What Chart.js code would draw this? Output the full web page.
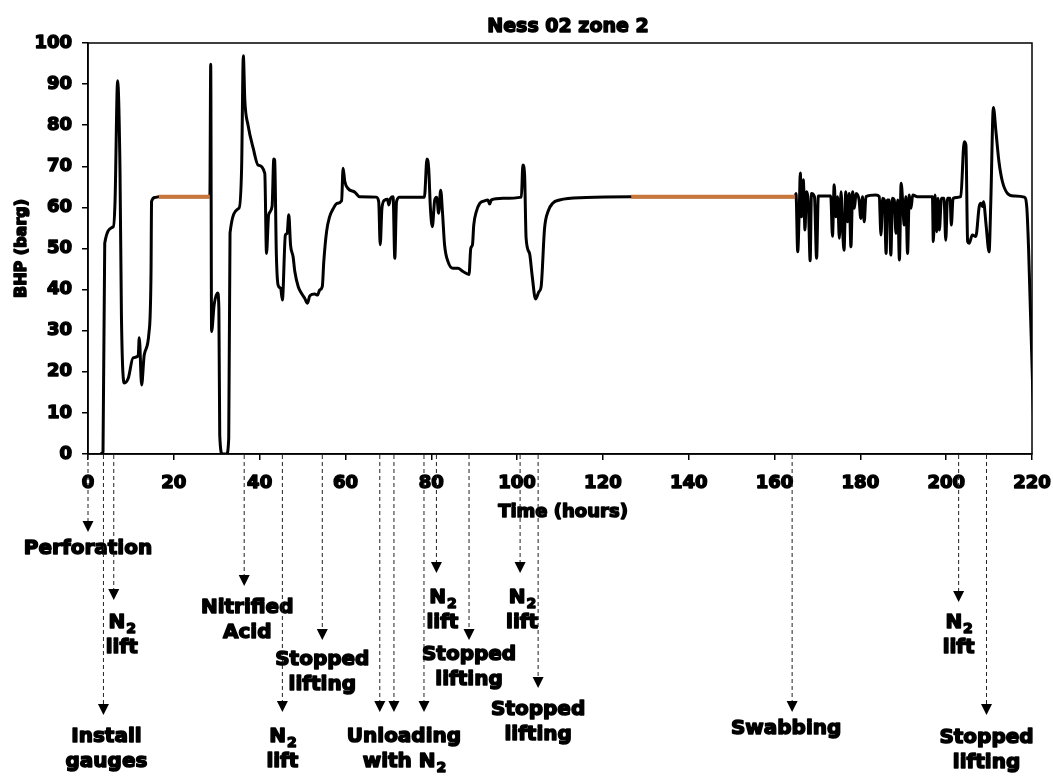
<!DOCTYPE html>
<html>
<head>
<meta charset="utf-8">
<script src="https://cdn.jsdelivr.net/npm/chart.js@4.4.1/dist/chart.umd.min.js"></script>
<style>
  body { margin: 0; background: #fff; }
  #wrap { width: 1053px; height: 776px; }
</style>
</head>
<body>
<div id="wrap"><canvas id="bhpChart" width="1053" height="776"></canvas></div>
<script>
// BHP record, hours vs barg
const bhpHours = [
  2.8, 3.5, 3.9, 5.9, 6.3, 6.9, 7.45, 7.8, 8.46, 9.4, 10.5, 11.7, 11.95, 12.5, 13.1, 14.2, 14.7, 14.8, 15.6, 16.5,
  22, 28.4, 28.6, 28.8, 29.4, 30.2, 30.5, 30.7, 31.3, 32.3, 32.8, 33.1, 35.2, 35.8, 36.2, 36.55, 37.3, 38.5, 39.65, 41.2,
  41.6, 42.1, 42.9, 43.3, 43.5, 43.9, 44.3, 44.9, 45.3, 46.0, 46.4, 46.8, 47.2, 47.8, 48.2, 49.0, 49.75, 50.5, 51.15, 51.7,
  52.85, 53.5, 54.0, 54.6, 54.95, 55.6, 56.3, 57.1, 58.1, 59.1, 59.45, 59.85, 60.6, 62.2, 63.3, 67.2, 67.75, 68.1, 68.5, 69.15,
  69.8, 70.1, 70.5, 71.1, 71.5, 71.9, 72.6, 78.4, 79.0, 79.4, 79.8, 80.25, 80.8, 81.3, 81.7, 82.2, 82.6, 83.1, 83.9, 85.05,
  86.2, 87.4, 88.8, 89.2, 89.6, 89.9, 90.5, 91.3, 92.4, 93.2, 93.6, 94.0, 96.7, 101.0, 101.35, 101.75, 102.1, 102.9, 103.5, 104.3,
  105.1, 105.6, 106.4, 107.2, 108.3, 109.9, 116.1, 126.6, 145, 164.8, 165.0, 165.4, 165.8, 166.0, 166.3, 166.7, 167.1, 167.4, 167.9, 168.3,
  168.6, 169.3, 169.8, 170.2, 173.1, 173.5, 173.9, 174.3, 174.7, 175.1, 175.5, 175.9, 176.2, 176.6, 177.0, 177.4, 177.8, 178.2, 178.6, 179.0,
  179.7, 180.1, 180.5, 180.9, 181.3, 183.6, 184.4, 184.8, 185.2, 185.6, 186.0, 186.3, 186.7, 187.1, 187.5, 187.9, 188.3, 188.7, 189.1, 189.5,
  189.9, 190.2, 190.6, 191.0, 191.4, 191.8, 192.2, 193.3, 196.8, 197.0, 197.4, 197.8, 198.1, 198.4, 198.9, 199.5, 199.9, 200.3, 200.9, 201.2,
  201.6, 203.4, 204.2, 204.6, 205.0, 205.35, 206.1, 206.9, 207.7, 208.1, 208.5, 208.7, 209.3, 210.0, 210.4, 211.0, 211.6, 212.3, 213.1, 214.3,
  215.8, 218.2, 218.8, 219.2, 220.6
];
const bhpValues = [
  0, 0.5, 51.3, 55.3, 61.4, 90.8, 69.6, 33, 17.3, 18.5, 23.4, 23.9, 28.3, 16.8, 24.1, 29.4, 45.3, 61.4, 62.4, 62.6,
  62.6, 62.6, 94.8, 29.8, 36.3, 39.2, 35.5, 4.6, 0, 0, 3.9, 53.8, 59.8, 69.6, 96.9, 86, 80, 74.4, 70.3, 68.3,
  48.8, 58.2, 60.2, 71.8, 71.5, 48.4, 41.1, 40.3, 37.5, 53.3, 53.7, 58.2, 50.9, 48, 44.4, 40.7, 39.1, 37.9, 36.7, 38.5,
  38.9, 38.7, 39.9, 40.7, 46.8, 54.1, 57.7, 59.6, 61, 61.6, 69.5, 66.3, 64.6, 63.7, 62.6, 62.5, 61.4, 50.9, 59.8, 61.8,
  62, 60.6, 62.2, 62.6, 47.6, 61.4, 62.5, 62.5, 71.8, 69.5, 59.8, 55.3, 61.8, 62.5, 58.6, 64.2, 59, 50.9, 46.8, 45.2,
  45.2, 44.4, 43.7, 50, 50.9, 55.7, 59, 61, 61.6, 61.8, 60.8, 61.8, 62.2, 62.5, 70.3, 67.9, 52.5, 48.8, 43.5, 37.7,
  39.5, 40.7, 54.9, 59, 61, 61.8, 62.4, 62.6, 62.6, 62.6, 63.4, 49.2, 61, 68.4, 57.7, 66.7, 54.5, 63.8, 60.2, 47,
  63.4, 62.6, 47.6, 62.8, 62.8, 53, 65.5, 57.7, 62.6, 52.5, 63.8, 53.7, 49.6, 63.8, 56.5, 63.4, 50.4, 63.8, 59.8, 63.4,
  61.8, 57.3, 62.6, 56.5, 62.6, 63, 62.6, 53.3, 62.2, 61.8, 48.8, 61.8, 61.8, 48.4, 62.2, 61.8, 53.7, 61.8, 47.2, 65.9,
  60.6, 55.7, 62.6, 48.8, 63, 59.8, 63, 62.6, 62.6, 51.7, 63, 54.1, 62.2, 54.5, 62.2, 62.2, 52, 62.2, 62.2, 55.7,
  62.2, 62.6, 76, 75.2, 51.7, 51.3, 53.3, 52.9, 60.2, 61, 60.2, 61.4, 55.7, 49.2, 61.4, 84.3, 78.4, 71.1, 66.3, 63.4,
  62.8, 62.5, 59.8, 50, 0
];

// stable periods (orange), null breaks the line
const stableHours = [16.5, 28.4, null, 126.6, 164.8];
const stableValues = [62.6, 62.6, null, 62.6, 62.6];

// operations below the time axis
const eventHours = [0, 3.6, 6.0, 36.4, 45.3, 54.6, 68.0, 71.3, 78.3, 81.2, 88.8, 100.7, 104.9, 164.1, 202.9, 209.4];
const eventLabels = [
  "Perforation", "Install\ngauges", "N₂\nlift", "Nitrified\nAcid", "N₂\nlift", "Stopped\nlifting",
  "", "Unloading\nwith N₂", "", "N₂\nlift", "Stopped\nlifting", "N₂\nlift", "Stopped\nlifting",
  "Swabbing", "N₂\nlift", "Stopped\nlifting"
];

const xTicksMax = 220, xStep = 20, yTicksMax = 100, yStep = 10;

// layout for the event arrows: [arrow tip below axis, text y below axis, text x shift]
const eventLayout = [
  [78, 95, 0], [261, 283, 3], [146, 169, 8], [132, 154, 3], [258, 283, 0], [186, 206, 0],
  [258, 0, 0], [258, 283, 10], [258, 0, 0], [119, 144, 6], [186, 201, 0], [119, 144, 2], [234, 256, 0],
  [258, 275, -6], [148, 169, 0], [261, 284, 0]
];

const FONT = '"DejaVu Sans", "Liberation Sans", sans-serif';

function heavyText(ctx, str, x, y, size, align) {
  ctx.font = `bold ${size}px ${FONT}`;
  ctx.textAlign = align || "center";
  ctx.textBaseline = "middle";
  ctx.lineWidth = 1.5;
  ctx.lineJoin = "round";
  ctx.strokeStyle = "#000";
  ctx.fillStyle = "#000";
  ctx.fillText(str, x, y);
  ctx.strokeText(str, x, y);
}

// a line of text where "₂" is drawn as a real subscript 2
function richLine(ctx, str, cx, y, size) {
  const parts = str.split("₂");
  const subSize = Math.round(size * 0.68);
  let total = 0;
  const pieces = [];
  parts.forEach((p, i) => {
    if (p) {
      ctx.font = `bold ${size}px ${FONT}`;
      pieces.push({ t: p, size, dy: 0, w: ctx.measureText(p).width });
    }
    if (i < parts.length - 1) {
      ctx.font = `bold ${subSize}px ${FONT}`;
      pieces.push({ t: "2", size: subSize, dy: size * 0.32, w: ctx.measureText("2").width });
    }
  });
  pieces.forEach((p) => (total += p.w));
  let x = cx - total / 2;
  pieces.forEach((p) => {
    heavyText(ctx, p.t, x, y + p.dy, p.size, "left");
    x += p.w + 1;
  });
}

const decorPlugin = {
  id: "decor",
  beforeDraw(chart) {
    const c = chart.ctx;
    c.save();
    c.fillStyle = "#fff";
    c.fillRect(0, 0, chart.width, chart.height);
    c.restore();
  },
  afterDraw(chart) {
    const c = chart.ctx;
    const area = chart.chartArea;
    const xs = chart.scales.x;
    const ys = chart.scales.y;
    c.save();
    // box round the plot
    c.strokeStyle = "#000";
    c.lineWidth = 1.5;
    c.strokeRect(area.left, area.top, area.right - area.left, area.bottom - area.top);

    // heavy tick labels, placed by the scales
    ys.ticks.forEach((t) => heavyText(c, String(t.value), area.left - 16, ys.getPixelForValue(t.value), 18, "right"));
    xs.ticks.forEach((t) => heavyText(c, String(t.value), xs.getPixelForValue(t.value), area.bottom + 29, 18, "center"));

    heavyText(c, "Ness 02 zone 2", (area.left + area.right) / 2 + 8, 27, 19);
    heavyText(c, "Time (hours)", (area.left + area.right) / 2 + 3, 512, 18);
    c.save();
    c.translate(22, (area.top + area.bottom) / 2);
    c.rotate(-Math.PI / 2);
    heavyText(c, "BHP (barg)", 0, 0, 16);
    c.restore();

    // events: dashed drop line, arrow head and label
    eventHours.forEach((h, i) => {
      const [tip, textY, dx] = eventLayout[i];
      const x = xs.getPixelForValue(h);
      const tipY = area.bottom + tip;
      c.save();
      c.strokeStyle = "#222";
      c.lineWidth = 1;
      c.setLineDash([4, 3]);
      c.beginPath();
      c.moveTo(x, area.bottom + 1);
      c.lineTo(x, tipY - 10);
      c.stroke();
      c.restore();
      c.fillStyle = "#000";
      c.beginPath();
      c.moveTo(x - 5.5, tipY - 11);
      c.lineTo(x + 5.5, tipY - 11);
      c.lineTo(x, tipY);
      c.closePath();
      c.fill();
      if (eventLabels[i]) {
        eventLabels[i].split("\n").forEach((line, k) => {
          richLine(c, line, x + dx, area.bottom + textY + k * 25, 20);
        });
      }
    });
    c.restore();
  }
};

const toPoints = (xs, ys) => xs.map((x, i) => ({ x, y: ys[i] }));

new Chart(document.getElementById("bhpChart"), {
  type: "line",
  data: {
    datasets: [
      {
        label: "BHP",
        data: toPoints(bhpHours, bhpValues),
        borderColor: "#000",
        borderWidth: 3,
        pointRadius: 0,
        cubicInterpolationMode: "monotone",
        order: 2
      },
      {
        label: "stable",
        data: [
          { x: stableHours[0], y: stableValues[0] },
          { x: stableHours[1], y: stableValues[1] },
          { x: 77, y: stableValues[2] },
          { x: stableHours[3], y: stableValues[3] },
          { x: stableHours[4], y: stableValues[4] }
        ],
        borderColor: "#c8763c",
        borderWidth: 4,
        pointRadius: 0,
        order: 1
      }
    ]
  },
  options: {
    responsive: false,
    animation: false,
    parsing: false,
    layout: { padding: { top: 43, right: 21, bottom: 0, left: 0 } },
    plugins: { legend: { display: false }, tooltip: { enabled: false }, title: { display: false } },
    scales: {
      x: {
        type: "linear",
        min: 0,
        max: xTicksMax,
        afterFit: (s) => { s.height = 322; s.paddingLeft = 0; s.paddingRight = 0; },
        ticks: { stepSize: xStep, color: "rgba(0,0,0,0)", padding: 10, maxRotation: 0, font: { family: FONT, size: 12, weight: "bold" } },
        grid: { drawOnChartArea: false, drawTicks: true, tickLength: 6, color: "#000", lineWidth: 1.5 },
        border: { display: true, color: "#000", width: 1.5 }
      },
      y: {
        min: 0,
        max: yTicksMax,
        afterFit: (s) => { s.width = 88; s.paddingTop = 0; s.paddingBottom = 0; },
        ticks: { stepSize: yStep, color: "rgba(0,0,0,0)", padding: 9, font: { family: FONT, size: 12, weight: "bold" } },
        grid: { drawOnChartArea: false, drawTicks: true, tickLength: 6, color: "#000", lineWidth: 1.5 },
        border: { display: true, color: "#000", width: 1.5 }
      }
    }
  },
  plugins: [decorPlugin]
});
</script>
</body>
</html>
